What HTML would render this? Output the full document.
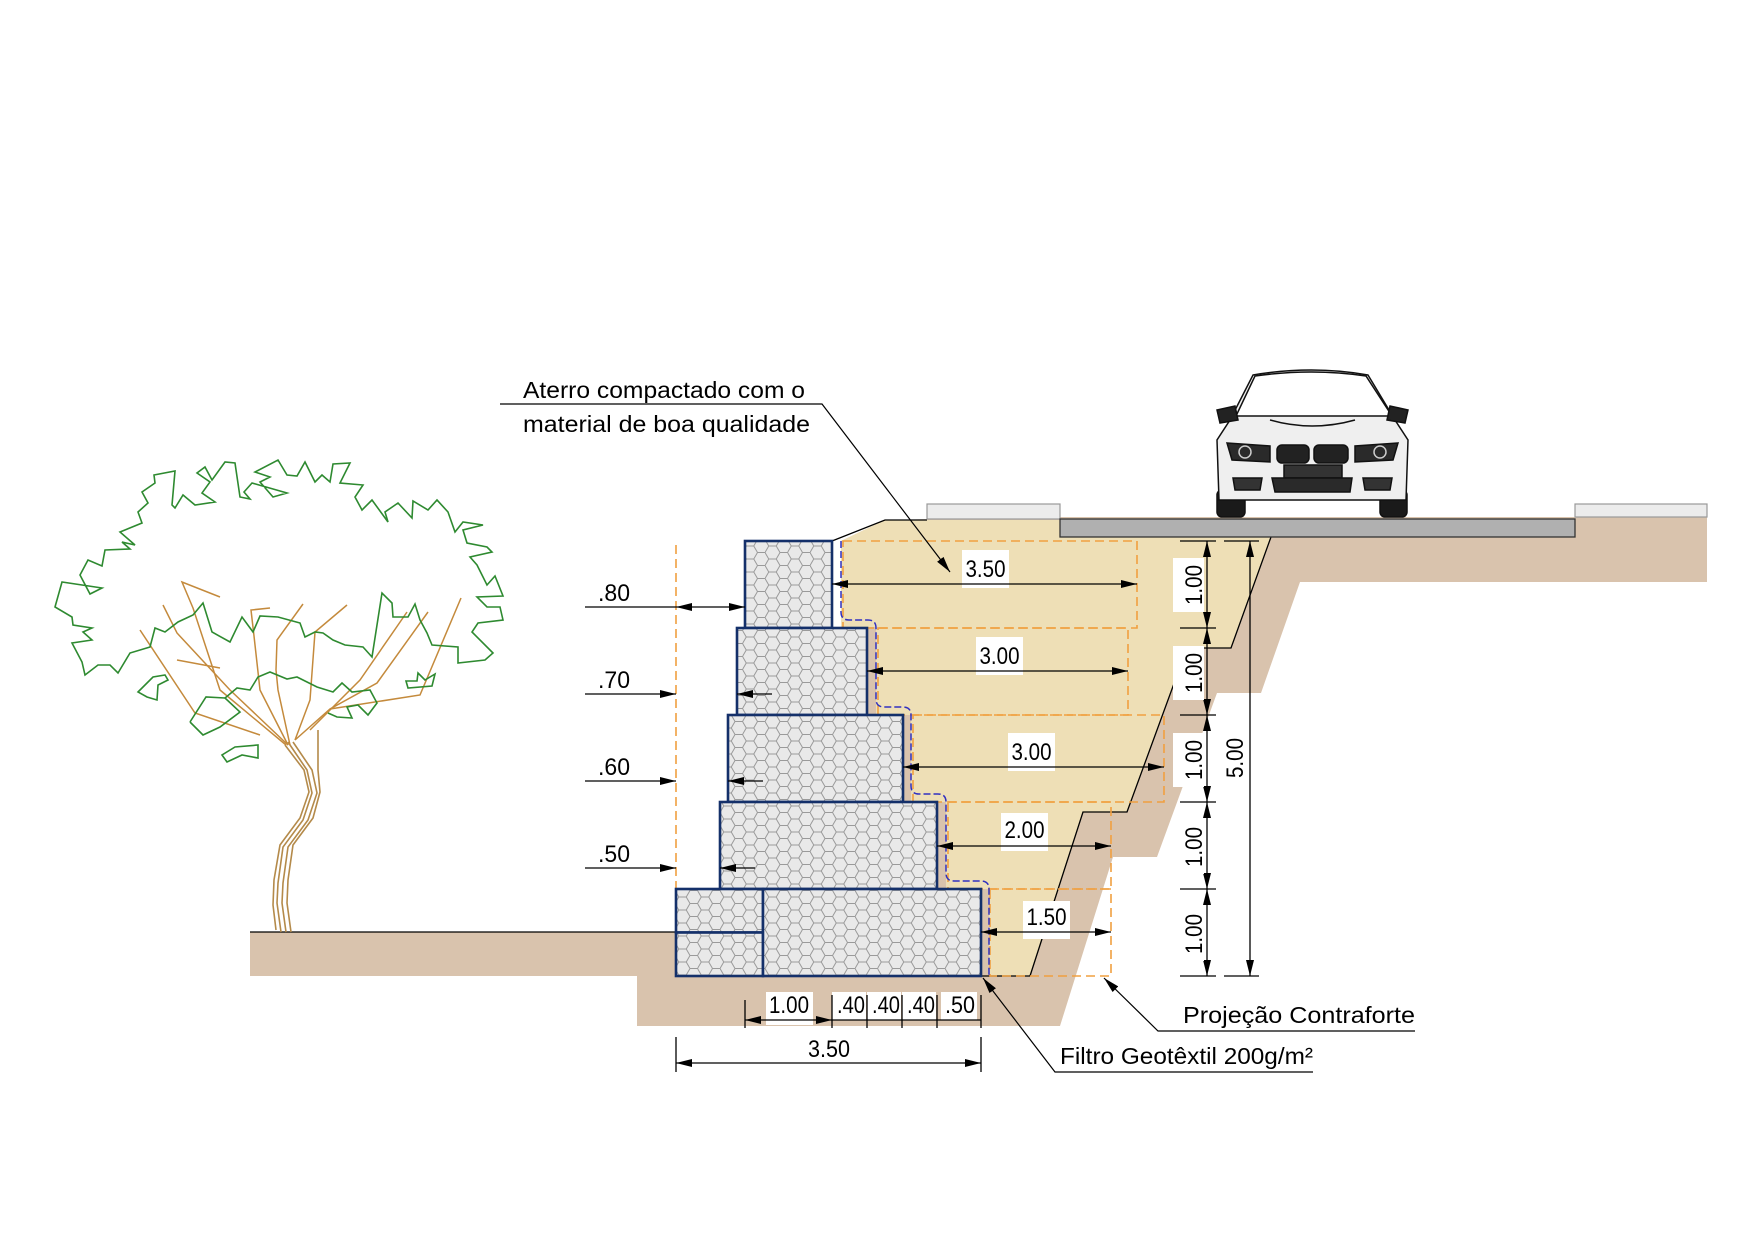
<!DOCTYPE html>
<html><head><meta charset="utf-8"><style>html,body{margin:0;padding:0;background:#fff}svg{display:block}text{font-family:"Liberation Sans",sans-serif;fill:#000}</style></head><body>
<svg width="1755" height="1240" viewBox="0 0 1755 1240" xmlns="http://www.w3.org/2000/svg">
<defs>
<pattern id="hex" width="22.5" height="13" patternUnits="userSpaceOnUse">
<rect width="22.5" height="13" fill="#e9e9e9"/>
<path d="M0,6.5 L3.75,0 L11.25,0 L15,6.5 L11.25,13 L3.75,13 Z M15,6.5 L22.5,6.5" fill="none" stroke="#9a9a9a" stroke-width="1"/>
</pattern>
<marker id="ar" markerWidth="16" markerHeight="8" refX="16" refY="4" orient="auto-start-reverse" markerUnits="userSpaceOnUse"><path d="M0,0 L16,4 L0,8 Z" fill="#000"/></marker>
</defs>

<!-- tan ground -->
<rect x="250" y="932" width="440" height="44" fill="#d9c3ad"/>
<polygon fill="#d9c3ad" points="637,976 637,1026 1060,1026 1113,857 1157,857 1217,693 1261,693 1300,582 1707,582 1707,517 1060,517 885,520 841,541 841,627 760,900 760,976"/>
<!-- beige fill -->
<polygon fill="#eedfb6" points="841,541 885,520 1060,520 1060,537 1271,537 1231,648 1187,648 1127,812 1083,812 1030,976 989,976 989,889 946,889 946,802 911,802 911,715 876,715 876,627 841,627"/>
<!-- excavation line -->
<polyline fill="none" stroke="#000" stroke-width="1.3" points="1271,537 1231,648 1187,648 1127,812 1083,812 1030,976"/>
<polyline fill="none" stroke="#000" stroke-width="1.3" points="832,541 885,520 927,520"/>
<line x1="250" y1="932" x2="676" y2="932" stroke="#000" stroke-width="1.3"/>
<line x1="981" y1="976" x2="1030" y2="976" stroke="#000" stroke-width="1.3"/>
<!-- road and curbs -->
<rect x="927" y="504" width="133" height="15" fill="#ececec" stroke="#999" stroke-width="1.2"/>
<rect x="1060" y="519" width="515" height="18" fill="#b0b0b0" stroke="#333" stroke-width="1.3"/>
<rect x="1575" y="504" width="132" height="13" fill="#ececec" stroke="#999" stroke-width="1.2"/>

<!-- orange dashed projections -->
<g fill="none" stroke="#f0a040" stroke-width="1.6" stroke-dasharray="9,5">
<rect x="843" y="541" width="294" height="87"/>
<rect x="878" y="628" width="250" height="87"/>
<rect x="913" y="715" width="251" height="87"/>
<rect x="948" y="802" width="163" height="87"/>
<rect x="990" y="889" width="121" height="87"/>
<line x1="676" y1="545" x2="676" y2="889"/>
</g>

<!-- geotextile -->
<path d="M841,541 L841,612 Q841,620 849,620 L868,620 Q876,620 876,628 L876,699 Q876,707 884,707 L903,707 Q911,707 911,715 L911,786 Q911,794 919,794 L938,794 Q946,794 946,802 L946,873 Q946,881 954,881 L981,881 Q989,881 989,889 L989,976" fill="none" stroke="#3030c0" stroke-width="1.5" stroke-dasharray="7,3"/>

<!-- gabions -->
<g fill="url(#hex)" stroke="#14306a" stroke-width="2.6">
<rect x="745" y="541" width="87" height="87"/>
<rect x="737" y="628" width="130" height="87"/>
<rect x="728" y="715" width="175" height="87"/>
<rect x="720" y="802" width="217" height="87"/>
<rect x="676" y="889" width="87" height="43.5"/>
<rect x="676" y="932.5" width="87" height="43.5"/>
<rect x="763" y="889" width="218" height="87"/>
</g>

<!-- left dims -->
<g stroke="#000" stroke-width="1.3" fill="none">
<line x1="585" y1="607" x2="676" y2="607"/>
<line x1="676" y1="607" x2="745" y2="607" marker-start="url(#ar)" marker-end="url(#ar)"/>
<line x1="585" y1="694" x2="676" y2="694" marker-end="url(#ar)"/>
<line x1="772" y1="694" x2="737" y2="694" marker-end="url(#ar)"/>
<line x1="585" y1="781" x2="676" y2="781" marker-end="url(#ar)"/>
<line x1="763" y1="781" x2="728" y2="781" marker-end="url(#ar)"/>
<line x1="585" y1="868" x2="676" y2="868" marker-end="url(#ar)"/>
<line x1="755" y1="868" x2="720" y2="868" marker-end="url(#ar)"/>
</g>
<g font-size="24">
<text x="598" y="601" textLength="32" lengthAdjust="spacingAndGlyphs">.80</text>
<text x="598" y="688" textLength="32" lengthAdjust="spacingAndGlyphs">.70</text>
<text x="598" y="775" textLength="32" lengthAdjust="spacingAndGlyphs">.60</text>
<text x="598" y="862" textLength="32" lengthAdjust="spacingAndGlyphs">.50</text>
</g>

<!-- right horizontal dims -->
<g fill="#fff">
<rect x="962" y="550" width="47" height="38"/>
<rect x="976" y="637" width="47" height="38"/>
<rect x="1008" y="733" width="47" height="38"/>
<rect x="1001" y="813" width="47" height="38"/>
<rect x="1023" y="901" width="47" height="38"/>
</g>
<g stroke="#000" stroke-width="1.3">
<line x1="832" y1="584" x2="1137" y2="584" marker-start="url(#ar)" marker-end="url(#ar)"/>
<line x1="867" y1="671" x2="1128" y2="671" marker-start="url(#ar)" marker-end="url(#ar)"/>
<line x1="903" y1="767" x2="1164" y2="767" marker-start="url(#ar)" marker-end="url(#ar)"/>
<line x1="937" y1="846" x2="1111" y2="846" marker-start="url(#ar)" marker-end="url(#ar)"/>
<line x1="981" y1="932" x2="1111" y2="932" marker-start="url(#ar)" marker-end="url(#ar)"/>
</g>
<g font-size="24" text-anchor="middle">
<text x="985.5" y="577" textLength="40" lengthAdjust="spacingAndGlyphs">3.50</text>
<text x="999.5" y="664" textLength="40" lengthAdjust="spacingAndGlyphs">3.00</text>
<text x="1031.5" y="760" textLength="40" lengthAdjust="spacingAndGlyphs">3.00</text>
<text x="1024.5" y="838" textLength="40" lengthAdjust="spacingAndGlyphs">2.00</text>
<text x="1046.5" y="925" textLength="40" lengthAdjust="spacingAndGlyphs">1.50</text>
</g>

<!-- vertical dims -->
<g stroke="#000" stroke-width="1.3">
<line x1="1180" y1="541" x2="1216" y2="541"/>
<line x1="1180" y1="628" x2="1216" y2="628"/>
<line x1="1180" y1="715" x2="1216" y2="715"/>
<line x1="1180" y1="802" x2="1216" y2="802"/>
<line x1="1180" y1="889" x2="1216" y2="889"/>
<line x1="1180" y1="976" x2="1216" y2="976"/>
<line x1="1207" y1="541" x2="1207" y2="628" marker-start="url(#ar)" marker-end="url(#ar)"/>
<line x1="1207" y1="628" x2="1207" y2="715" marker-start="url(#ar)" marker-end="url(#ar)"/>
<line x1="1207" y1="715" x2="1207" y2="802" marker-start="url(#ar)" marker-end="url(#ar)"/>
<line x1="1207" y1="802" x2="1207" y2="889" marker-start="url(#ar)" marker-end="url(#ar)"/>
<line x1="1207" y1="889" x2="1207" y2="976" marker-start="url(#ar)" marker-end="url(#ar)"/>
<line x1="1224" y1="541" x2="1259" y2="541"/>
<line x1="1224" y1="976" x2="1259" y2="976"/>
<line x1="1250" y1="541" x2="1250" y2="976" marker-start="url(#ar)" marker-end="url(#ar)"/>
</g>
<g fill="#fff">
<rect x="1173" y="558" width="31" height="54"/>
<rect x="1173" y="646" width="31" height="54"/>
<rect x="1173" y="733" width="31" height="54"/>
<rect x="1173" y="820" width="31" height="54"/>
<rect x="1173" y="907" width="31" height="54"/>
</g>
<g font-size="24" text-anchor="middle">
<text transform="translate(1202,585) rotate(-90)" textLength="40" lengthAdjust="spacingAndGlyphs">1.00</text>
<text transform="translate(1202,673) rotate(-90)" textLength="40" lengthAdjust="spacingAndGlyphs">1.00</text>
<text transform="translate(1202,760) rotate(-90)" textLength="40" lengthAdjust="spacingAndGlyphs">1.00</text>
<text transform="translate(1202,847) rotate(-90)" textLength="40" lengthAdjust="spacingAndGlyphs">1.00</text>
<text transform="translate(1202,934) rotate(-90)" textLength="40" lengthAdjust="spacingAndGlyphs">1.00</text>
<text transform="translate(1243,758) rotate(-90)" textLength="40" lengthAdjust="spacingAndGlyphs">5.00</text>
</g>

<!-- bottom dims -->
<g fill="#fff">
<rect x="766" y="992" width="47" height="33"/>
<rect x="832" y="992" width="34" height="28"/>
<rect x="867" y="992" width="34" height="28"/>
<rect x="902" y="992" width="34" height="28"/>
<rect x="941" y="992" width="36" height="28"/>
</g>
<g stroke="#000" stroke-width="1.3">
<line x1="745" y1="1000" x2="745" y2="1028"/>
<line x1="832" y1="995" x2="832" y2="1028"/>
<line x1="867" y1="995" x2="867" y2="1028"/>
<line x1="902" y1="995" x2="902" y2="1028"/>
<line x1="937" y1="995" x2="937" y2="1028"/>
<line x1="981" y1="995" x2="981" y2="1028"/>
<line x1="745" y1="1020" x2="832" y2="1020" marker-start="url(#ar)" marker-end="url(#ar)"/>
<line x1="832" y1="1020" x2="981" y2="1020"/>
<line x1="676" y1="1037" x2="676" y2="1072"/>
<line x1="981" y1="1037" x2="981" y2="1072"/>
<line x1="676" y1="1063" x2="981" y2="1063" marker-start="url(#ar)" marker-end="url(#ar)"/>
</g>
<g font-size="24" text-anchor="middle">
<text x="789" y="1013" textLength="40" lengthAdjust="spacingAndGlyphs">1.00</text>
<text x="851" y="1013" textLength="28" lengthAdjust="spacingAndGlyphs">.40</text>
<text x="886" y="1013" textLength="28" lengthAdjust="spacingAndGlyphs">.40</text>
<text x="921" y="1013" textLength="28" lengthAdjust="spacingAndGlyphs">.40</text>
<text x="960" y="1013" textLength="30" lengthAdjust="spacingAndGlyphs">.50</text>
<text x="829" y="1057" textLength="42" lengthAdjust="spacingAndGlyphs">3.50</text>
</g>

<!-- leaders -->
<g stroke="#000" stroke-width="1.2" fill="none">
<polyline points="500,404 822,404 950,572" marker-end="url(#ar)"/>
<polyline points="1415,1031 1158,1031 1104,978" marker-end="url(#ar)"/>
<polyline points="1313,1072 1055,1072 983,978" marker-end="url(#ar)"/>
</g>
<g font-size="23">
<text x="523" y="398" textLength="282" lengthAdjust="spacingAndGlyphs">Aterro compactado com o</text>
<text x="523" y="432" textLength="287" lengthAdjust="spacingAndGlyphs">material de boa qualidade</text>
<text x="1183" y="1023" textLength="232" lengthAdjust="spacingAndGlyphs">Projeção Contraforte</text>
<text x="1060" y="1064" textLength="253" lengthAdjust="spacingAndGlyphs">Filtro Geotêxtil 200g/m²</text>
</g>

<!-- car -->
<g stroke="#111" stroke-width="1.5">
<rect x="1217" y="490" width="28" height="27" rx="5" fill="#1a1a1a"/>
<rect x="1380" y="490" width="27" height="27" rx="5" fill="#1a1a1a"/>
<path d="M1253,375 Q1312,365 1368,375 L1395,420 L1408,440 L1406,500 L1219,500 L1217,440 L1230,420 Z" fill="#efefef"/>
<path d="M1255,376 Q1312,368 1366,376 L1392,416 L1236,416 Z" fill="#fff"/>
<path d="M1217,410 L1235,406 L1238,420 L1220,423 Z" fill="#222"/>
<path d="M1408,410 L1390,406 L1387,420 L1405,423 Z" fill="#222"/>
<path d="M1227,443 L1270,446 L1270,462 L1232,460 Z" fill="#2a2a2a"/>
<path d="M1398,443 L1355,446 L1355,462 L1393,460 Z" fill="#2a2a2a"/>
<rect x="1277" y="445" width="32" height="18" rx="5" fill="#222"/>
<rect x="1314" y="445" width="34" height="18" rx="5" fill="#222"/>
<rect x="1284" y="465" width="58" height="13" fill="#333"/>
<path d="M1272,478 L1352,478 L1350,492 L1275,492 Z" fill="#2a2a2a"/>
<path d="M1233,478 L1262,478 L1260,490 L1235,490 Z" fill="#333"/>
<path d="M1392,478 L1363,478 L1365,490 L1390,490 Z" fill="#333"/>
<path d="M1270,420 Q1312,432 1355,420" fill="none"/>
</g>
<circle cx="1245" cy="452" r="6" fill="none" stroke="#ccc" stroke-width="1.5"/>
<circle cx="1380" cy="452" r="6" fill="none" stroke="#ccc" stroke-width="1.5"/>

<!-- tree trunk -->
<g fill="none" stroke="#b48a4a" stroke-width="1.6">
<polyline points="281,932 277,903 278,883 283,847 303,820 312,793 307,770 288,742"/>
<polyline points="286,932 282,903 283,883 288,847 308,820 317,793 312,770 293,742"/>
<polyline points="291,932 287,903 288,880 293,845 313,818 320,792 318,770 318,730"/>
<polyline points="276,930 273,905 274,880 280,845 300,818 309,792 304,770 285,745"/>
</g>
<g fill="none" stroke="#c48a3c" stroke-width="1.5">
<polyline points="288,745 230,690 177,633 163,605"/>
<polyline points="286,745 220,690 193,608 182,582 220,597"/>
<polyline points="288,745 260,690 254,636 251,610 270,608"/>
<polyline points="290,745 278,690 276,670 277,640 303,604"/>
<polyline points="295,740 310,700 315,632 347,605"/>
<polyline points="295,740 330,709 377,683 428,612"/>
<polyline points="330,709 420,695 461,598"/>
<polyline points="310,730 360,680 407,612"/>
<polyline points="260,735 195,713 140,630"/>
<polyline points="177,660 220,668"/>
</g>
<!-- canopy -->
<g fill="none" stroke="#2e8a30" stroke-width="1.6" stroke-linejoin="miter">
<polygon points="55,607 62,582 102,588 90,594 80,575 88,560 102,566 105,550 130,549 122,542 135,545 120,532 142,523 138,512 148,503 142,492 155,483 154,475 175,471 172,505 175,508 183,495 195,505 215,502 202,493 210,482 197,473 205,467 212,480 225,462 235,463 240,497 250,499 244,492 252,483 287,493 273,497 260,482 270,477 255,472 278,460 287,475 297,476 305,462 315,482 322,475 330,482 333,464 350,463 340,483 363,485 355,497 362,510 372,500 388,522 385,512 398,503 412,518 413,501 428,510 437,500 448,512 455,532 463,522 483,525 463,530 467,543 487,547 492,552 470,557 477,565 487,585 495,576 503,596 477,597 487,607 500,607 503,620 478,623 472,632 493,653 485,660 458,663 458,647 432,645 427,633 420,620 415,604 408,617 393,617 392,603 382,593 372,657 363,647 345,645 333,640 323,633 315,632 305,637 300,623 278,617 260,616 253,632 242,617 230,642 212,632 203,603 193,615 178,622 165,632 155,628 150,647 130,653 118,673 110,665 98,665 85,675 82,662 72,643 92,640 83,632 92,628 73,625 72,617"/>
<polygon points="138,692 153,677 165,675 168,680 158,685 157,700 147,697"/>
<polyline points="190,722 203,735 220,727 240,712 225,698 237,688 250,690 258,677 270,672 287,679 297,677 317,687 333,692 342,683 352,692 370,690 377,703 368,715 358,705 347,707 352,718 337,717 328,713"/>
<polyline points="190,722 206,697 225,698"/>
<polygon points="222,755 227,762 242,755 258,758 258,745 235,747"/>
<polygon points="406,681 417,681 418,673 425,680 435,674 432,686 408,688"/>
</g>
</svg>
</body></html>
